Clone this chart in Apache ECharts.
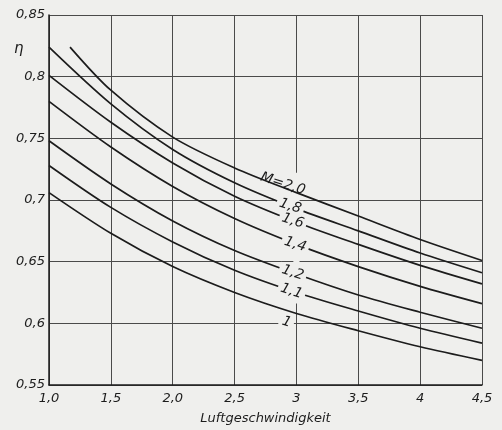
<!DOCTYPE html>
<html><head><meta charset="utf-8">
<script src="https://cdn.jsdelivr.net/npm/echarts@6/dist/echarts.min.js"></script>
<style>html,body{margin:0;padding:0;background:#efefed}#c{width:502px;height:430px}</style>
</head><body><div id="c"></div>
<script>
// Data
const xs    = [1.0, 1.5, 2.0, 2.5, 3.0, 3.5, 4.0, 4.5];
const xsM20 = [1.17, 1.5, 2.0, 2.5, 3.0, 3.5, 4.0, 4.5];
const etaM20 = [0.824, 0.789, 0.751, 0.726, 0.706, 0.687, 0.668, 0.651];
const etaM18 = [0.824, 0.778, 0.741, 0.714, 0.693, 0.675, 0.657, 0.641];
const etaM16 = [0.801, 0.763, 0.730, 0.703, 0.682, 0.664, 0.647, 0.632];
const etaM14 = [0.780, 0.743, 0.711, 0.685, 0.664, 0.646, 0.630, 0.616];
const etaM12 = [0.748, 0.713, 0.683, 0.659, 0.640, 0.623, 0.609, 0.596];
const etaM11 = [0.728, 0.694, 0.666, 0.643, 0.625, 0.610, 0.596, 0.584];
const etaM10 = [0.706, 0.673, 0.646, 0.625, 0.608, 0.594, 0.581, 0.570];
const curveLabels = ['M=2,0', '1,8', '1,6', '1,4', '1,2', '1,1', '1'];
const labelX = [2.89, 2.95, 2.97, 2.99, 2.97, 2.96, 2.92];
const labelY = [0.713, 0.695, 0.683, 0.664, 0.641, 0.626, 0.601];
const xTickLabels = ['1,0', '1,5', '2,0', '2,5', '3', '3,5', '4', '4,5'];
const yTickLabels = ['0,55', '0,6', '0,65', '0,7', '0,75', '0,8', '0,85'];

const BG = '#efefed';
const INK = '#1c1c1c';
const FONT = 'DejaVu Sans';

const curves = [
  {x: xsM20, y: etaM20}, {x: xs, y: etaM18}, {x: xs, y: etaM16},
  {x: xs, y: etaM14}, {x: xs, y: etaM12}, {x: xs, y: etaM11}, {x: xs, y: etaM10}
];

const series = curves.map((c, i) => ({
  type: 'line',
  name: curveLabels[i],
  data: c.x.map((x, j) => [x, c.y[j]]),
  smooth: 0.3,
  symbol: 'none',
  lineStyle: {color: INK, width: 1.7},
  z: 3,
  silent: true,
  markPoint: {
    silent: true,
    symbol: 'rect',
    symbolSize: 1,
    itemStyle: {color: 'rgba(0,0,0,0)'},
    label: {
      show: true,
      formatter: curveLabels[i],
      rotate: -18,
      fontFamily: FONT,
      fontStyle: 'italic',
      fontSize: 14,
      color: INK,
      backgroundColor: i === 0 ? 'transparent' : BG,
      padding: [0, 3, 0, 3]
    },
    data: [{coord: [labelX[i], labelY[i]]}]
  }
}));

// gap in the x = 3 grid line behind the curve labels
series.push({
  type: 'line',
  data: [],
  silent: true,
  markArea: {
    silent: true,
    itemStyle: {color: BG},
    data: [[{coord: [2.975, 0.616]}, {coord: [3.025, 0.722]}]]
  }
});

const chart = echarts.init(document.getElementById('c'), null, {renderer: 'canvas'});
chart.setOption({
  backgroundColor: BG,
  animation: false,
  grid: {left: 49, right: 20, top: 15, bottom: 40},
  xAxis: {
    type: 'value', min: 1, max: 4.5, interval: 0.5,
    name: 'Luftgeschwindigkeit', nameLocation: 'middle', nameGap: 27,
    nameTextStyle: {fontFamily: FONT, fontStyle: 'italic', fontSize: 13, color: INK},
    axisLine: {show: true, lineStyle: {color: INK, width: 1.5}},
    axisTick: {show: false},
    axisLabel: {
      fontFamily: FONT, fontStyle: 'italic', fontSize: 13, color: INK, margin: 7,
      formatter: v => xTickLabels[Math.round((v - 1) / 0.5)]
    },
    splitLine: {show: true, lineStyle: {color: '#4a4a4a', width: 1}}
  },
  yAxis: {
    type: 'value', min: 0.55, max: 0.85, interval: 0.05,
    axisLine: {show: true, lineStyle: {color: INK, width: 1.5}},
    axisTick: {show: false},
    axisLabel: {
      fontFamily: FONT, fontStyle: 'italic', fontSize: 13, color: INK, margin: 4,
      formatter: v => yTickLabels[Math.round((v - 0.55) / 0.05)]
    },
    splitLine: {show: true, lineStyle: {color: '#4a4a4a', width: 1}}
  },
  graphic: [{
    type: 'text', left: 14, top: 42,
    style: {text: 'η', fontFamily: FONT, fontStyle: 'italic', fontSize: 15, fill: INK}
  }],
  series: series
});
</script>
</body></html>
